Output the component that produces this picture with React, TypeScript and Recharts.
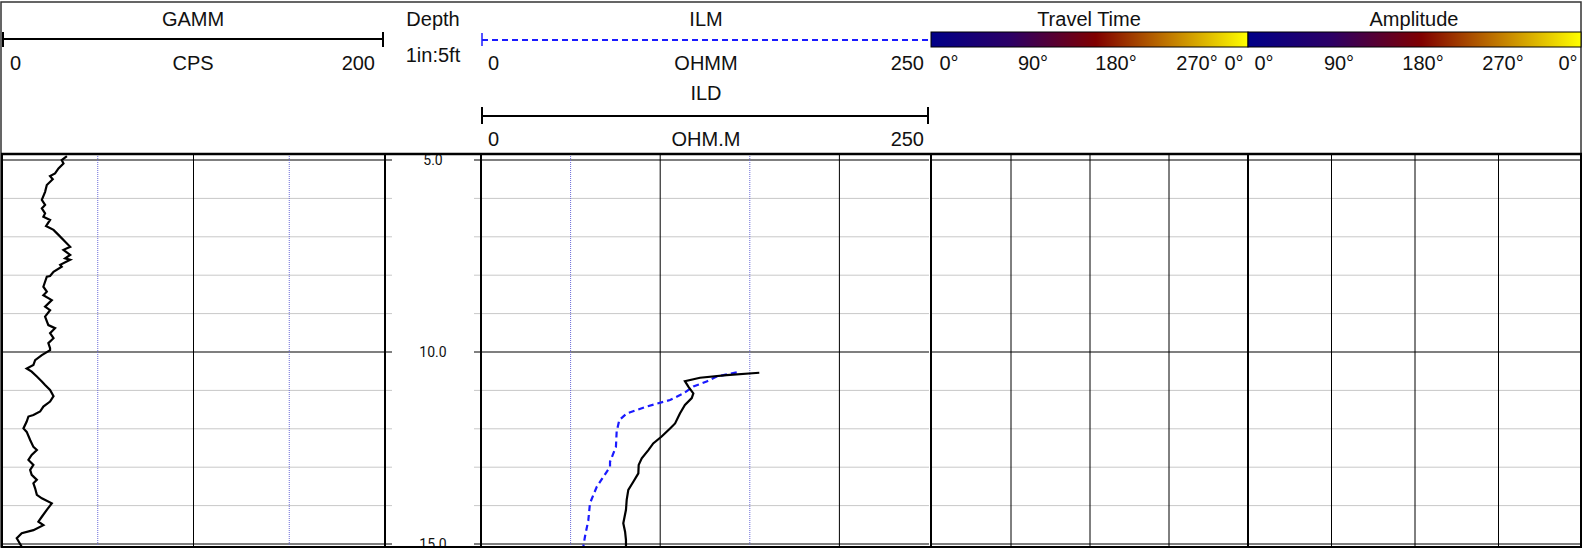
import React from "react";
import { LineChart, Line, XAxis, YAxis, ReferenceLine } from "recharts";

// gamma ray (CPS) by depth (ft)
const grDepth = [
  4.9, 5.0, 5.09, 5.22, 5.35, 5.42, 5.5, 5.65, 5.83, 6.04, 6.17, 6.26, 6.39, 6.48, 6.56, 6.72, 6.82, 6.95,
  7.13, 7.26, 7.34, 7.47, 7.56, 7.6, 7.73, 7.78, 7.91, 8.02, 8.04, 8.3, 8.43, 8.52, 8.65, 8.82, 8.91, 9.08,
  9.3, 9.38, 9.51, 9.64, 9.77, 9.9, 9.95, 10.08, 10.21, 10.34, 10.43, 10.51, 10.64, 10.77, 10.86, 10.99,
  11.15, 11.29, 11.42, 11.55, 11.64, 11.68, 11.81, 11.99, 12.08, 12.29, 12.47, 12.55, 12.68, 12.81, 12.94,
  13.07, 13.2, 13.33, 13.42, 13.55, 13.72, 13.81, 13.94, 14.11, 14.29, 14.42, 14.51, 14.64, 14.72, 14.85, 15.07,
];
const grValue = [
  33.9, 31.2, 32.1, 29.5, 27.7, 25.1, 26.5, 23.4, 22.5, 20.8, 22.5, 20.8, 22.5, 21.6, 25.1, 23.0, 26.9, 29.5,
  33.0, 35.6, 32.1, 35.6, 33.0, 35.6, 30.4, 31.2, 26.9, 25.1, 23.4, 21.6, 23.4, 21.6, 26.0, 22.5, 25.1, 22.5,
  24.2, 27.7, 25.1, 26.9, 24.2, 25.1, 25.1, 20.8, 17.3, 16.4, 12.9, 15.5, 18.2, 20.8, 22.5, 25.1,
  26.9, 25.1, 21.6, 19.9, 16.4, 13.8, 12.9, 11.2, 12.9, 14.7, 16.4, 18.2, 15.5, 13.8, 16.4,
  14.7, 15.5, 18.2, 16.4, 17.3, 18.2, 20.8, 26.0, 23.4, 20.8, 19.0, 21.6, 16.4, 10.3, 7.7, 10.3,
];

// deep induction (OHM.M)
const ildDepth = [
  10.54, 10.6, 10.67, 10.76, 10.9, 11.08, 11.2, 11.38, 11.6, 11.86, 11.99, 12.2, 12.38, 12.55, 12.77, 12.94,
  13.16, 13.38, 13.59, 13.85, 14.11, 14.46, 14.68, 14.9, 15.07,
];
const ildValue = [
  155.3, 137.1, 122.2, 113.8, 115.7, 118.5, 117.6, 113.8, 111.0, 108.3, 105.5, 100.8, 96.1, 93.5, 89.7, 88.0,
  87.8, 85.0, 82.2, 81.3, 80.9, 79.4, 80.4, 80.9, 80.9,
];

// medium induction (OHMM)
const ilmDepth = [
  10.53, 10.64, 10.77, 10.9, 11.08, 11.25, 11.42, 11.6, 11.77, 12.07, 12.47, 12.86, 12.99, 13.51, 13.94, 14.38,
  14.81, 15.07,
];
const ilmValue = [
  142.7, 131.5, 125.9, 118.5, 112.9, 105.5, 92.5, 81.3, 77.2, 75.7, 75.3, 72.0, 72.0, 64.6, 60.8, 59.9, 58.0, 57.1,
];

const depthTicks = [5, 6, 7, 8, 9, 10, 11, 12, 13, 14, 15];
const majorDepths = [5, 10, 15];
const phaseLabels = ["0°", "90°", "180°", "270°", "0°"];

const TOP = 154;
const PLOT_H = 393;
const DEPTH_DOMAIN: [number, number] = [4.84375, 15.078125];
const FONT = "'Liberation Sans', Arial, sans-serif";

const toRows = (d: number[], v: number[]) => d.map((depth, i) => ({ depth, value: v[i] }));
const grRows = toRows(grDepth, grValue);
const ildRows = toRows(ildDepth, ildValue);
const ilmRows = toRows(ilmDepth, ilmValue);
const tickRows = depthTicks.map((depth) => ({ depth }));

type VLine = { v: number; kind: "blue" | "black" };
type Series = { rows: { depth: number; value: number }[]; color: string; dash?: string };

function Track({ left, width, max, vlines, series }: { left: number; width: number; max: number; vlines: VLine[]; series: Series[] }) {
  return (
    <div style={{ position: "absolute", left, top: TOP, width, height: PLOT_H }}>
      <LineChart width={width} height={PLOT_H} layout="vertical" data={tickRows} margin={{ top: 0, right: 0, bottom: 0, left: 0 }}>
        <XAxis type="number" domain={[0, max]} allowDataOverflow hide />
        <YAxis type="number" dataKey="depth" domain={DEPTH_DOMAIN} allowDataOverflow hide />
        {depthTicks.map((d) => {
          const major = majorDepths.includes(d);
          return <ReferenceLine key={"h" + d} y={d} stroke={major ? "#555" : "#c8c8c8"} strokeWidth={major ? 1.5 : 1} />;
        })}
        {vlines.map((g) =>
          g.kind === "blue" ? (
            <ReferenceLine key={"v" + g.v} x={g.v} stroke="#6a6ad8" strokeDasharray="1 1" strokeWidth={1} />
          ) : (
            <ReferenceLine key={"v" + g.v} x={g.v} stroke="#000" strokeWidth={1} />
          )
        )}
        {series.map((s, i) => (
          <Line
            key={i}
            data={s.rows}
            dataKey="value"
            type="linear"
            stroke={s.color}
            strokeWidth={2.2}
            strokeDasharray={s.dash}
            dot={false}
            isAnimationActive={false}
          />
        ))}
      </LineChart>
    </div>
  );
}

// depth track: x domain in pixels so the edge ticks have a fixed length
const DEPTH_W = 96;
const TICK_LEN = 7;

const DepthLabel = (props: any) => {
  const vb = props.viewBox || {};
  return (
    <text
      x={(vb.x || 0) + (vb.width || 0) / 2}
      y={vb.y || 0}
      textAnchor="middle"
      dominantBaseline="central"
      fontFamily="Roboto, sans-serif"
      fontSize={14}
      fill="#111"
    >
      {props.text}
    </text>
  );
};

function DepthTrack() {
  return (
    <div style={{ position: "absolute", left: 385, top: TOP, width: DEPTH_W, height: PLOT_H }}>
      <LineChart width={DEPTH_W} height={PLOT_H} layout="vertical" data={tickRows} margin={{ top: 0, right: 0, bottom: 0, left: 0 }}>
        <XAxis type="number" domain={[0, DEPTH_W]} allowDataOverflow hide />
        <YAxis type="number" dataKey="depth" domain={DEPTH_DOMAIN} allowDataOverflow hide />
        {depthTicks.map((d) => {
          const major = majorDepths.includes(d);
          const c = major ? "#555" : "#c8c8c8";
          const w = major ? 1.5 : 1;
          return (
            <React.Fragment key={d}>
              <ReferenceLine segment={[{ x: 0, y: d }, { x: TICK_LEN, y: d }]} stroke={c} strokeWidth={w} />
              <ReferenceLine segment={[{ x: DEPTH_W - TICK_LEN, y: d }, { x: DEPTH_W, y: d }]} stroke={c} strokeWidth={w} />
              {major && <ReferenceLine y={d} stroke="none" label={<DepthLabel text={d.toFixed(1)} />} />}
            </React.Fragment>
          );
        })}
      </LineChart>
    </div>
  );
}

const ttLabelX = [949, 1033, 1116, 1197, 1234];
const ampLabelX = [1264, 1339, 1423, 1503, 1568];

function Header() {
  const t = (x: number, y: number, s: string, anchor: "start" | "middle" | "end" = "middle") => (
    <text x={x} y={y} textAnchor={anchor} fontFamily={FONT} fontSize={20} fill="#111">
      {s}
    </text>
  );
  return (
    <svg width={1583} height={550} style={{ position: "absolute", left: 0, top: 0, pointerEvents: "none" }}>
      <defs>
        <linearGradient id="phase" x1="0" x2="1" y1="0" y2="0">
          <stop offset="0" stopColor="#000088" />
          <stop offset="0.25" stopColor="#2c0066" />
          <stop offset="0.52" stopColor="#800000" />
          <stop offset="0.75" stopColor="#c07800" />
          <stop offset="1" stopColor="#ffff00" />
        </linearGradient>
      </defs>
      <rect x={1} y={2} width={1580} height={545} fill="none" stroke="#333" strokeWidth={1.5} />
      <line x1={1} x2={1582} y1={154} y2={154} stroke="#000" strokeWidth={2.5} />
      <line x1={1} x2={1582} y1={547} y2={547} stroke="#000" strokeWidth={2} />
      {[2, 385, 481, 931, 1248, 1581].map((x) => (
        <line key={x} x1={x} x2={x} y1={154} y2={547} stroke="#000" strokeWidth={2} />
      ))}

      {/* GAMM */}
      {t(193, 26, "GAMM")}
      <line x1={2} x2={384} y1={39} y2={39} stroke="#000" strokeWidth={2} />
      <line x1={3} x2={3} y1={32} y2={47} stroke="#000" strokeWidth={2} />
      <line x1={383} x2={383} y1={32} y2={47} stroke="#000" strokeWidth={2} />
      {t(10, 70, "0", "start")}
      {t(193, 70, "CPS")}
      {t(375, 70, "200", "end")}

      {/* Depth */}
      {t(433, 26, "Depth")}
      {t(433, 62, "1in:5ft")}

      {/* ILM */}
      {t(706, 26, "ILM")}
      <line x1={482} x2={929} y1={40} y2={40} stroke="#1a1aff" strokeWidth={2} strokeDasharray="6 4" />
      <line x1={482} x2={482} y1={33} y2={46} stroke="#1a1aff" strokeWidth={1.5} />
      {t(488, 70, "0", "start")}
      {t(706, 70, "OHMM")}
      {t(924, 70, "250", "end")}

      {/* ILD */}
      {t(706, 100, "ILD")}
      <line x1={481} x2={929} y1={116} y2={116} stroke="#000" strokeWidth={2} />
      <line x1={482} x2={482} y1={107} y2={124} stroke="#000" strokeWidth={2} />
      <line x1={928} x2={928} y1={107} y2={124} stroke="#000" strokeWidth={2} />
      {t(488, 146, "0", "start")}
      {t(706, 146, "OHM.M")}
      {t(924, 146, "250", "end")}

      {/* Travel Time */}
      {t(1089, 26, "Travel Time")}
      <rect x={931} y={32} width={317} height={15} fill="url(#phase)" stroke="#000" strokeWidth={1} />
      {phaseLabels.map((s, i) => (
        <React.Fragment key={"tt" + i}>{t(ttLabelX[i], 70, s)}</React.Fragment>
      ))}

      {/* Amplitude */}
      {t(1414, 26, "Amplitude")}
      <rect x={1248} y={32} width={333} height={15} fill="url(#phase)" stroke="#000" strokeWidth={1} />
      {phaseLabels.map((s, i) => (
        <React.Fragment key={"amp" + i}>{t(ampLabelX[i], 70, s)}</React.Fragment>
      ))}
    </svg>
  );
}

export default function App() {
  return (
    <div style={{ position: "absolute", left: 0, top: 0, width: 1583, height: 550, background: "#fff", overflow: "hidden" }}>
      <Track
        left={2}
        width={383}
        max={200}
        vlines={[
          { v: 50, kind: "blue" },
          { v: 100, kind: "black" },
          { v: 150, kind: "blue" },
        ]}
        series={[{ rows: grRows, color: "#000" }]}
      />
      <DepthTrack />
      <Track
        left={481}
        width={448}
        max={250}
        vlines={[
          { v: 50, kind: "blue" },
          { v: 100, kind: "black" },
          { v: 150, kind: "blue" },
          { v: 200, kind: "black" },
        ]}
        series={[
          { rows: ilmRows, color: "#1a1aff", dash: "6 4" },
          { rows: ildRows, color: "#000" },
        ]}
      />
      <Track
        left={932}
        width={316}
        max={360}
        vlines={[
          { v: 90, kind: "black" },
          { v: 180, kind: "black" },
          { v: 270, kind: "black" },
        ]}
        series={[]}
      />
      <Track
        left={1248}
        width={334}
        max={360}
        vlines={[
          { v: 90, kind: "black" },
          { v: 180, kind: "black" },
          { v: 270, kind: "black" },
        ]}
        series={[]}
      />
      <Header />
    </div>
  );
}
